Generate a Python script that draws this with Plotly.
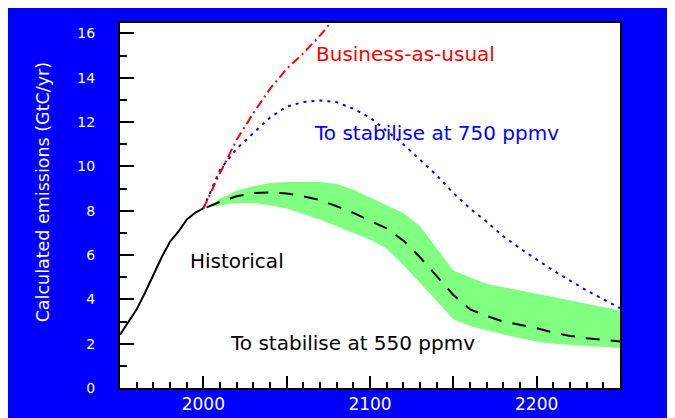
import plotly.graph_objects as go

# ---- data ----
hist_years = [1950, 1955, 1960, 1965, 1970, 1975, 1980, 1985, 1990, 1995, 2000]
hist_vals = [2.4, 2.95, 3.55, 4.3, 5.1, 5.9, 6.6, 7.05, 7.6, 7.9, 8.1]

bau_years = [2000, 2010, 2020, 2030, 2040, 2050, 2060, 2070, 2080]
bau_vals = [8.1, 9.7, 11.2, 12.4, 13.5, 14.4, 15.1, 15.9, 16.8]

s750_years = [2000, 2010, 2020, 2030, 2040, 2050, 2060, 2070, 2080, 2090, 2100,
              2110, 2120, 2130, 2140, 2150, 2160, 2170, 2180, 2190, 2200,
              2210, 2220, 2230, 2240, 2250]
s750_vals = [8.1, 9.85, 10.8, 11.5, 12.2, 12.7, 12.9, 12.97, 12.9, 12.6, 12.2,
             11.6, 11.0, 10.3, 9.6, 8.8, 8.1, 7.5, 6.85, 6.3, 5.8,
             5.3, 4.85, 4.4, 4.0, 3.6]

s550_years = [2002, 2010, 2020, 2030, 2040, 2050, 2060, 2070, 2080, 2090, 2100,
              2110, 2120, 2130, 2140, 2150, 2160, 2170, 2180, 2190, 2200,
              2210, 2220, 2230, 2240, 2250]
s550_mid = [8.15, 8.4, 8.65, 8.8, 8.82, 8.78, 8.65, 8.48, 8.2, 7.9, 7.55,
            7.2, 6.65, 5.9, 5.05, 4.2, 3.55, 3.25, 3.0, 2.85, 2.7,
            2.5, 2.35, 2.25, 2.18, 2.1]
s550_upper = [8.15, 8.55, 8.9, 9.1, 9.25, 9.3, 9.3, 9.3, 9.2, 8.95, 8.6,
              8.25, 7.9, 7.3, 6.3, 5.3, 5.0, 4.7, 4.55, 4.4, 4.25,
              4.1, 3.95, 3.8, 3.65, 3.5]
s550_lower = [8.15, 8.25, 8.35, 8.35, 8.25, 8.1, 7.85, 7.6, 7.3, 7.0, 6.7,
              6.3, 5.55, 4.75, 3.9, 3.1, 2.8, 2.6, 2.42, 2.25, 2.1,
              2.0, 1.95, 1.9, 1.85, 1.8]

x_tick_vals = [2000, 2050, 2100, 2150, 2200]
x_tick_text = ["2000", "", "2100", "", "2200"]
y_tick_vals = [0, 2, 4, 6, 8, 10, 12, 14, 16]
y_tick_text = ["0", "2", "4", "6", "8", "10", "12", "14", "16"]

FONT = "DejaVu Sans"
BLUE_BG = "#0000ff"

fig = go.Figure()

# 550 ppmv uncertainty band
fig.add_trace(go.Scatter(x=s550_years, y=s550_lower, mode="lines",
                         line=dict(width=0, color="#80ff80"), hoverinfo="skip",
                         showlegend=False))
fig.add_trace(go.Scatter(x=s550_years, y=s550_upper, mode="lines",
                         line=dict(width=0, color="#80ff80"), fill="tonexty",
                         fillcolor="#80ff80", hoverinfo="skip", showlegend=False))
# 550 median
fig.add_trace(go.Scatter(x=s550_years, y=s550_mid, mode="lines",
                         line=dict(color="black", width=2, dash="14px,11px"),
                         showlegend=False))
# 750 ppmv
fig.add_trace(go.Scatter(x=s750_years, y=s750_vals, mode="lines",
                         line=dict(color="#0000ff", width=2, dash="3px,5px"),
                         showlegend=False))
# business as usual
fig.add_trace(go.Scatter(x=bau_years, y=bau_vals, mode="lines",
                         line=dict(color="#ff0000", width=2, dash="9px,4px,2px,4px"),
                         showlegend=False))
# historical
fig.add_trace(go.Scatter(x=hist_years, y=hist_vals, mode="lines",
                         line=dict(color="black", width=2), showlegend=False))

ann_font = dict(family=FONT, size=20)
annotations = [
    dict(x=2121, y=15.05, text="Business-as-usual", font=dict(ann_font, color="#ff0000")),
    dict(x=2140, y=11.5, text="To stabilise at 750 ppmv", font=dict(ann_font, color="#0000ff")),
    dict(x=2020, y=5.75, text="Historical", font=dict(ann_font, color="black")),
    dict(x=2089.5, y=2.05, text="To stabilise at 550 ppmv", font=dict(ann_font, color="black")),
]
for a in annotations:
    a.update(xref="x", yref="y", showarrow=False, xanchor="center", yanchor="middle")

annotations.append(dict(
    text="Calculated emissions (GtC/yr)", textangle=-90, xref="paper", yref="paper",
    x=-0.154, y=0.536, xanchor="center", yanchor="middle", showarrow=False,
    font=dict(family=FONT, size=17.5, color="white")))

fig.update_layout(
    width=675, height=418,
    margin=dict(l=112, r=63, t=15, b=38),
    paper_bgcolor=BLUE_BG, plot_bgcolor="white",
    showlegend=False,
    annotations=annotations,
)
fig.update_xaxes(
    range=[1950, 2250], tickmode="array", tickvals=x_tick_vals, ticktext=x_tick_text,
    ticks="inside", ticklen=12, tickwidth=2, tickcolor="black",
    showline=True, linecolor="black", linewidth=2, mirror=True,
    showgrid=False, zeroline=False,
    tickfont=dict(family=FONT, size=17, color="white"),
    minor=dict(ticks="inside", dtick=10, ticklen=6, tickwidth=2, tickcolor="black", showgrid=False),
)
fig.update_yaxes(
    range=[0, 16.47], tickmode="array", tickvals=y_tick_vals, ticktext=y_tick_text,
    ticks="inside", ticklen=14, tickwidth=2, tickcolor="black",
    showline=True, linecolor="black", linewidth=2, mirror=True,
    showgrid=False, zeroline=False, ticklabelstandoff=20,
    tickfont=dict(family=FONT, size=14, color="white"),
    minor=dict(ticks="inside", dtick=1, ticklen=7, tickwidth=2, tickcolor="black", showgrid=False),
)

fig.write_html("out.html")
